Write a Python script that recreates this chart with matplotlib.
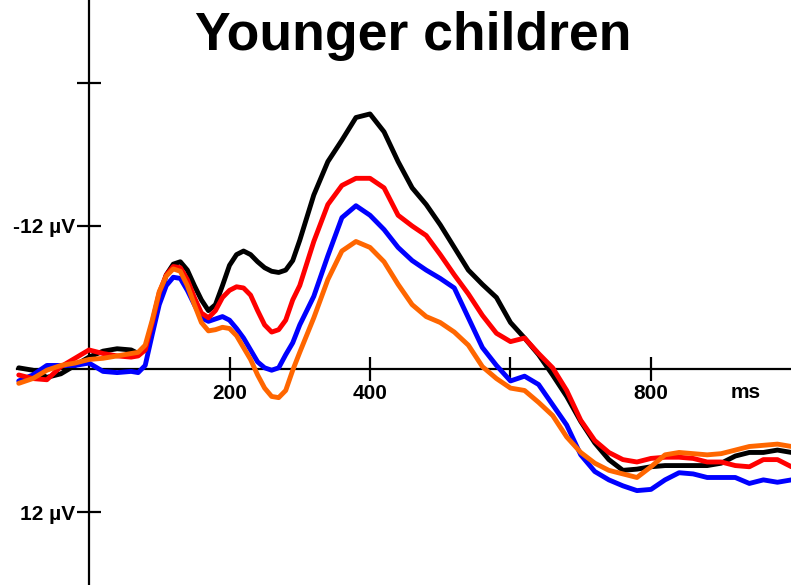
import numpy as np
import matplotlib
matplotlib.use("Agg")
import matplotlib.pyplot as plt

# time axis (ms): 20 ms steps, 10 ms steps through the early peaks
times = (list(range(-100, 61, 20)) + list(range(70, 301, 10))
         + list(range(320, 1001, 20)))

# amplitudes in microvolts (negative plotted upward)
black = [-0.1, 0.1, 0.7, 0.4, -0.3, -1.0, -1.5, -1.7, -1.6,
         -1.3, -1.6, -3.7, -6.0, -7.9, -8.8, -9.0, -8.3, -7.0, -5.8, -4.9, -5.4,
         -7.0, -8.7, -9.6, -9.9, -9.6, -9.0, -8.5, -8.2, -8.1, -8.3, -9.1, -10.8,
         -14.6, -17.4, -19.2, -21.1, -21.4, -19.9, -17.4, -15.2, -13.8, -12.1,
         -10.2, -8.3, -7.1, -6.0, -3.9, -2.6, -1.2, 0.5, 2.3, 4.4, 6.2, 7.6,
         8.5, 8.4, 8.2, 8.1, 8.1, 8.1, 8.1, 7.9, 7.3, 7.0, 7.0, 6.8, 7.0]
red = [0.5, 0.8, 0.9, -0.2, -0.9, -1.6, -1.3, -1.1, -1.0,
       -1.1, -1.6, -3.9, -6.4, -7.9, -8.6, -8.5, -7.5, -6.0, -4.7, -4.3, -4.9,
       -6.0, -6.6, -6.9, -6.8, -6.2, -4.9, -3.7, -3.1, -3.3, -4.1, -5.8, -7.0,
       -10.7, -13.8, -15.4, -16.0, -16.0, -15.2, -12.9, -12.0, -11.2, -9.6,
       -7.9, -6.3, -4.5, -3.0, -2.3, -2.6, -1.3, -0.1, 1.8, 4.3, 6.0, 7.0,
       7.6, 7.8, 7.5, 7.4, 7.4, 7.5, 7.8, 7.8, 8.1, 8.2, 7.6, 7.6, 8.2]
blue = [1.0, 0.5, -0.3, -0.3, -0.3, -0.5, 0.2, 0.3, 0.2,
        0.3, -0.3, -2.9, -5.4, -7.0, -7.7, -7.6, -6.6, -5.4, -4.3, -4.0, -4.2,
        -4.4, -4.1, -3.4, -2.6, -1.6, -0.6, -0.1, 0.1, -0.1, -1.2, -2.2, -3.7,
        -6.1, -9.5, -12.7, -13.7, -12.9, -11.7, -10.2, -9.1, -8.3, -7.6,
        -6.8, -4.3, -1.8, -0.3, 1.0, 0.6, 1.3, 3.0, 4.7, 7.2, 8.6, 9.3,
        9.8, 10.2, 10.1, 9.3, 8.7, 8.8, 9.1, 9.1, 9.1, 9.6, 9.3, 9.5, 9.3]
orange = [1.2, 0.8, 0.1, -0.3, -0.5, -0.8, -0.9, -1.1, -1.3,
          -1.4, -2.0, -4.1, -6.5, -7.8, -8.4, -8.2, -7.0, -5.4, -3.9, -3.2, -3.3,
          -3.5, -3.4, -2.8, -1.8, -0.8, 0.5, 1.6, 2.3, 2.4, 1.8, 0.1, -1.4,
          -4.3, -7.5, -9.9, -10.7, -10.2, -9.0, -7.1, -5.4, -4.4, -3.9,
          -3.1, -2.0, -0.2, 0.8, 1.6, 1.8, 2.8, 3.9, 5.7, 7.0, 7.9, 8.5,
          8.8, 9.1, 8.2, 7.2, 7.0, 7.1, 7.2, 7.1, 6.8, 6.5, 6.4, 6.3, 6.5]

x_ticks = [200, 400, 600, 800]
x_labels = ["200", "400", "", "800"]
y_ticks = [-24, -12, 12]
y_labels = ["", "-12 \u00b5V", "12 \u00b5V"]

plt.rcParams['font.family'] = ['Liberation Sans', 'DejaVu Sans']
plt.rcParams['font.weight'] = 'bold'

fig = plt.figure(figsize=(7.91, 5.85), dpi=100)
ax = fig.add_axes([0, 0, 1, 1])
ax.set_xlim(-126.7, 999.3)
ax.set_ylim(18.12, -30.96)  # negative up

# waveforms, black at the bottom, orange on top
for series, col in [(black, 'black'), (blue, '#0000ff'),
                    (red, '#ff0000'), (orange, '#ff6600')]:
    ax.plot(times, series, color=col, lw=3.5, solid_capstyle='round',
            solid_joinstyle='round', zorder=3)

# axes crossing at the origin
for side in ['top', 'right']:
    ax.spines[side].set_visible(False)
ax.spines['left'].set_position(('data', 0))
ax.spines['bottom'].set_position(('data', 0))
ax.spines['bottom'].set_bounds(-102, 998)
ax.spines['left'].set_linewidth(1.6)
ax.spines['bottom'].set_linewidth(1.6)

ax.set_xticks(x_ticks)
ax.set_xticklabels(x_labels)
ax.set_yticks(y_ticks)
ax.set_yticklabels(y_labels)
ax.tick_params(axis='both', direction='inout', length=17.5, width=1.6,
               labelsize=15)
ax.tick_params(axis='x', pad=2)
ax.tick_params(axis='y', pad=1.5)
for lab in ax.get_xticklabels() + ax.get_yticklabels():
    lab.set_fontweight('bold')

ax.text(935, 1.2, "ms", fontsize=15, fontweight='bold', ha='center', va='top')
ax.text(461, -30.0, "Younger children", fontsize=38.5, fontweight='bold',
        ha='center', va='top')

fig.savefig("out.png", dpi=100)
